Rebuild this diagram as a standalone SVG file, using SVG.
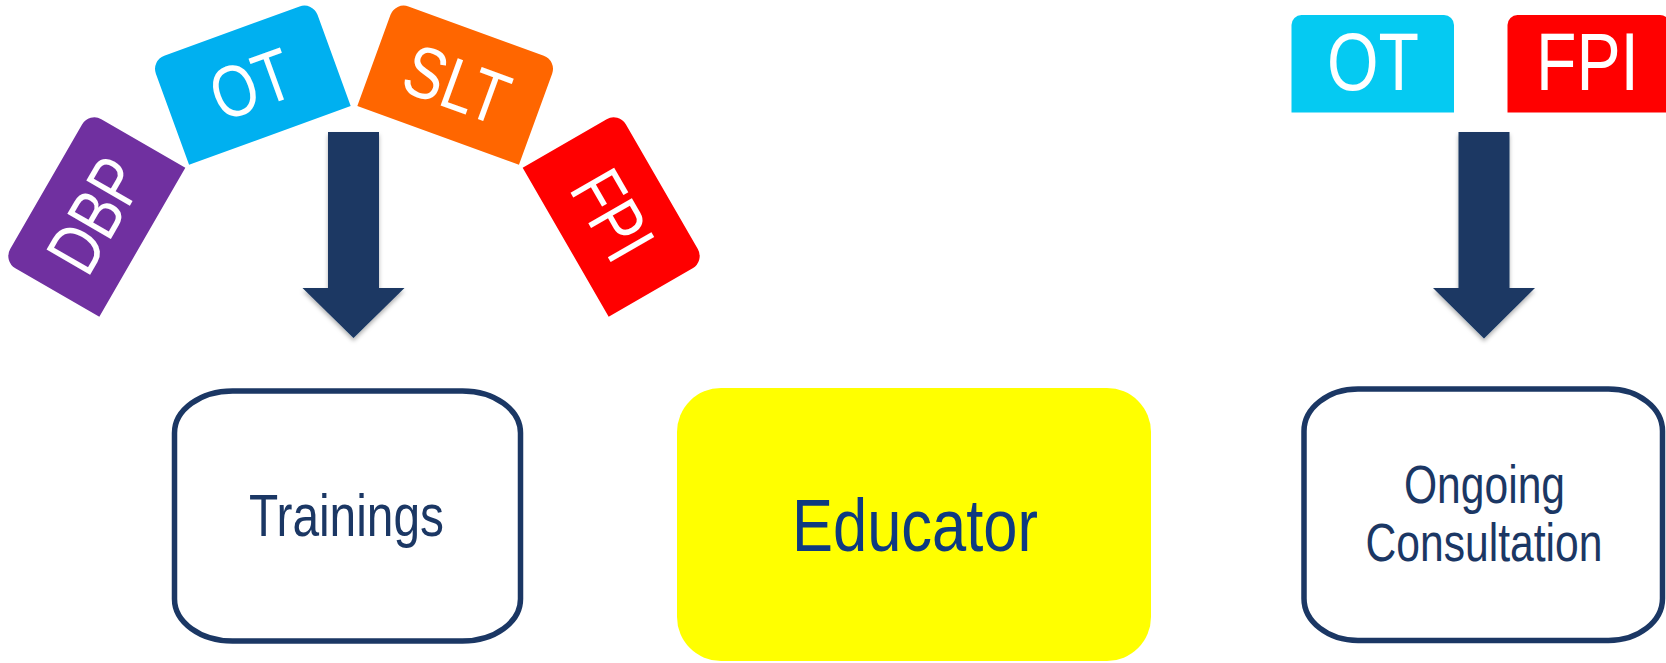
<svg xmlns="http://www.w3.org/2000/svg" width="1666" height="663" viewBox="0 0 1666 663">
<defs>
<style>
.ctext{font-family:"Liberation Sans",Arial,sans-serif;font-size:73px;fill:#fff}
.btext{font-family:"Liberation Sans",Arial,sans-serif;fill:#fff}
.node{fill:#fff;stroke:#1B3764;stroke-width:5.5}
.ntext{font-family:"Liberation Sans",Arial,sans-serif;fill:#1B3764}
.conn{stroke:#1B3764;stroke-width:5;fill:none}
.arrow{fill:#1A3864}
</style>
<path id="cardShape" d="M0,111 V14 A14,14 0 0 1 14,0 H158 A14,14 0 0 1 172,14 V111 Z"/>
<filter id="sh" x="-20%" y="-20%" width="140%" height="160%">
<feDropShadow dx="0" dy="3" stdDeviation="2" flood-color="#000" flood-opacity="0.3"/>
</filter>
</defs>
<rect width="1666" height="663" fill="#fff"/>

<g id="card-dbp" transform="translate(3.2,261.2) rotate(-60)">
<use href="#cardShape" fill="#7030A0"/>
<text class="ctext" x="86" y="82" text-anchor="middle" textLength="118" lengthAdjust="spacingAndGlyphs">DBP</text>
</g>
<g id="card-ot" transform="translate(151.1,60.5) rotate(-20)">
<use href="#cardShape" fill="#00B0F0"/>
<text class="ctext" x="86" y="82" text-anchor="middle" textLength="82" lengthAdjust="spacingAndGlyphs">OT</text>
</g>
<g id="card-slt" transform="translate(395.3,1.7) rotate(20)">
<use href="#cardShape" fill="#FF6600"/>
<text class="ctext" x="86" y="82" text-anchor="middle" textLength="106" lengthAdjust="spacingAndGlyphs">SLT</text>
</g>
<g id="card-fpi" transform="translate(618.8,112.2) rotate(60)">
<use href="#cardShape" fill="#FF0000"/>
<text class="ctext" x="86" y="82" text-anchor="middle" textLength="90" lengthAdjust="spacingAndGlyphs">FPI</text>
</g>

<g id="box-ot">
<path d="M1291.5,112.5 V25 A10,10 0 0 1 1301.5,15 H1444 A10,10 0 0 1 1454,25 V112.5 Z" fill="#05CAF2"/>
<text class="btext" x="1373" y="90" font-size="82" text-anchor="middle" textLength="92" lengthAdjust="spacingAndGlyphs">OT</text>
</g>
<g id="box-fpi">
<path d="M1507.5,112.5 V25 A10,10 0 0 1 1517.5,15 H1660 A10,10 0 0 1 1670,25 V112.5 Z" fill="#FF0000"/>
<text class="btext" x="1587.5" y="90" font-size="82" text-anchor="middle" textLength="103" lengthAdjust="spacingAndGlyphs">FPI</text>
</g>

<g id="connectors">
<path class="arrow" filter="url(#sh)" d="M328,132 H379 V288 H404.5 L353.5,338 L302.5,288 H328 Z"/>
<path class="arrow" filter="url(#sh)" d="M1458.5,132 H1509.5 V288 H1535 L1484,338.5 L1433,288 H1458.5 Z"/>
<line class="conn" filter="url(#sh)" x1="520" y1="519.5" x2="670" y2="519.5"/>
<line class="conn" filter="url(#sh)" x1="1151" y1="519.5" x2="1302" y2="519.5"/>
</g>

<g id="node-trainings">
<rect class="node" x="174.5" y="391" width="346" height="250" rx="58" ry="42"/>
<text class="ntext" x="346.5" y="535.5" font-size="59" text-anchor="middle" textLength="195" lengthAdjust="spacingAndGlyphs">Trainings</text>
</g>

<g id="node-educator">
<rect x="677" y="388" width="474" height="273" rx="44" ry="44" fill="#FFFF00"/>
<text x="915" y="550.5" font-family="'Liberation Sans',Arial,sans-serif" font-size="75" fill="#0E3A80" text-anchor="middle" textLength="246" lengthAdjust="spacingAndGlyphs">Educator</text>
</g>

<g id="node-consultation">
<rect class="node" x="1304" y="389" width="358.5" height="251.5" rx="54" ry="42"/>
<text class="ntext" x="1484.5" y="502.7" font-size="53" text-anchor="middle" textLength="161" lengthAdjust="spacingAndGlyphs">Ongoing</text>
<text class="ntext" x="1484" y="560.7" font-size="53" text-anchor="middle" textLength="237" lengthAdjust="spacingAndGlyphs">Consultation</text>
</g>
</svg>
